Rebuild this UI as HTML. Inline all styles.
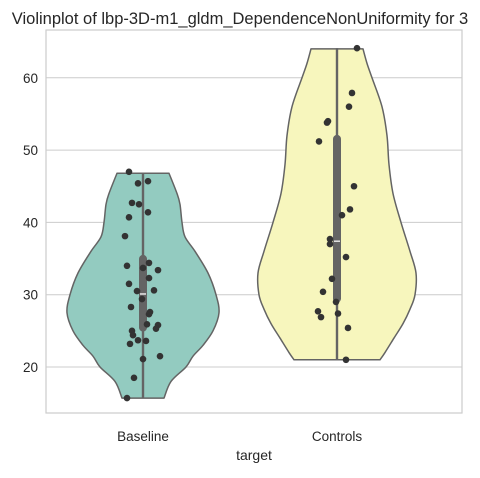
<!DOCTYPE html>
<html><head><meta charset="utf-8"><style>
body{margin:0;background:#fff;font-family:"Liberation Sans",sans-serif}
</style></head><body>
<svg id="c" width="480" height="473" xmlns="http://www.w3.org/2000/svg"></svg>
<script>
const categories=["Baseline","Controls"];
const yTicks=[20,30,40,50,60];
const baseProfileV=[46.8,44,42.5,40,38,36,33,30,27.5,25,23,21.5,20,18,15.7];
const baseProfileW=[26,34,37,39,42,52,65,73,76,70,60,50,43,28,21];
const ctrlProfileV=[64,62,60,56,52,48,44,40,36,33,30,28,26,24,22,21];
const ctrlProfileW=[26,30,35,45,50,52,56,64,73,79,78,73,66,57,48,43];
const baseVals=[47,45.4,45.7,42.7,42.5,41.4,40.7,38.1,34.0,34.4,33.7,33.4,32.3,31.5,30.5,30.6,29.4,28.3,27.6,27.3,25.9,25.8,25.3,25.0,24.4,23.7,23.6,23.2,21.1,21.5,18.5,15.7];
const baseJit=[-14,-5,5,-11,-4,5,-14,-18,-16,6,0,15,6,-14,-6,11,-1,-12,7,6,4,15,13,-11,-10,-5,3,-13,0,17,-9,-16];
const ctrlVals=[64.1,57.9,56.0,54.0,53.8,51.2,45.0,41.8,41.0,37.7,37.0,35.2,32.2,30.4,29.0,27.7,27.4,26.9,25.4,21.0];
const ctrlJit=[20,15,12,-9,-10,-18,17,13,5,-7,-7,9,-5,-14,-1,-19,1,-16,11,9];
const baseBox=[15.7,24.9,30.1,35.5,46.8];
const ctrlBox=[21.0,28.9,37.4,52.1,64.1];
const L=46,R=462,T=30,B=413;
const y=v=>367-(v-20)*7.23;
const xc=i=>143+i*194;
const svg=document.getElementById('c');
const NS='http://www.w3.org/2000/svg';
function mk(t,a){const e=document.createElementNS(NS,t);for(const k in a)e.setAttribute(k,a[k]);svg.appendChild(e);return e;}
function spline(P){let d='';for(let i=0;i<P.length-1;i++){const p0=P[Math.max(0,i-1)],p1=P[i],p2=P[i+1],p3=P[Math.min(P.length-1,i+2)];
 const c1=[p1[0]+(p2[0]-p0[0])/6,p1[1]+(p2[1]-p0[1])/6],c2=[p2[0]-(p3[0]-p1[0])/6,p2[1]-(p3[1]-p1[1])/6];
 d+=' C'+c1[0]+','+c1[1]+' '+c2[0]+','+c2[1]+' '+p2[0]+','+p2[1];}return d;}
yTicks.forEach(v=>{
 const g=mk('line',{x1:L,x2:R,y1:y(v),y2:y(v),stroke:'#cccccc','stroke-width':1});
 
 
 const t=mk('text',{x:L-8,y:y(v)+5,'text-anchor':'end','font-size':13.5,fill:'#262626'});
 t.textContent=v;
 
 
});
const profiles=[[baseProfileV,baseProfileW,'#93cbc0'],[ctrlProfileV,ctrlProfileW,'#f7f6bd']];
const boxes=[baseBox,ctrlBox];
const pts=[[baseVals,baseJit],[ctrlVals,ctrlJit]];
profiles.forEach((p,i)=>{
 const cx=xc(i);
 const right=p[0].map((v,j)=>[cx+p[1][j],y(v)]);
 const left=p[0].map((v,j)=>[cx-p[1][j],y(v)]).reverse();
 const d='M'+right[0][0]+','+right[0][1]+spline(right)+' L'+left[0][0]+','+left[0][1]+spline(left)+' Z';
 const v=mk('path',{d:d,fill:p[2],stroke:'#646464','stroke-width':1.5,'stroke-linejoin':'round'});
 
 
 const b=boxes[i];
 const w=mk('line',{x1:cx,x2:cx,y1:y(b[0]),y2:y(b[4]),stroke:'#646464','stroke-width':2.4});
 
 
 const bx=mk('rect',{x:cx-4,y:y(b[3]),width:8,height:y(b[1])-y(b[3]),rx:4,fill:'#646464'});
 
 
 const m=mk('line',{x1:cx-3,x2:cx+3,y1:y(b[2]),y2:y(b[2]),stroke:'#e8e8e8','stroke-width':1.5});
 
 
 pts[i][0].forEach((val,j)=>{
  const c=mk('circle',{cx:cx+pts[i][1][j],cy:y(val),r:3.3,fill:'#333333'});
  
  
 });
 const t=mk('text',{x:cx,y:441,'text-anchor':'middle','font-size':13.5,fill:'#262626'});
 t.textContent=categories[i];
 
 
});
const fr=mk('rect',{x:L,y:T,width:R-L,height:B-T,fill:'none',stroke:'#cccccc','stroke-width':1.2});


const xt=mk('text',{x:254,y:460,'text-anchor':'middle','font-size':14,fill:'#262626'});
xt.textContent='target';


const ti=mk('text',{x:240,y:24,'text-anchor':'middle','font-size':16.5,fill:'#262626'});
ti.textContent='Violinplot of lbp-3D-m1_gldm_DependenceNonUniformity for 3';


</script>
</body></html>
